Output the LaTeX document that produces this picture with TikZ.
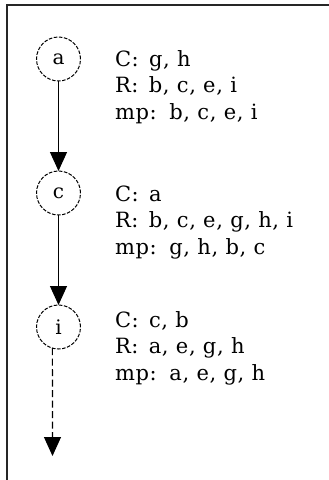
\documentclass[tikz,border=0pt]{standalone}
\usepackage{fontspec}
\setmainfont{DejaVu Serif}[LetterSpace=3]
\usetikzlibrary{arrows.meta}
\begin{document}
\begin{tikzpicture}[x=1pt,y=-1pt,
  every node/.style={inner sep=0pt, outer sep=0pt},
  state/.style={circle, draw, dash pattern=on 3.6pt off 1.5pt, line width=1pt,
    minimum size=44pt, font=\fontsize{20}{20}\selectfont},
  info/.style={anchor=base west, font=\fontsize{21}{21}\selectfont},
  edge/.style={line width=1.1pt, -{Triangle[width=17pt,length=19pt]}},
  dashededge/.style={edge, dash pattern=on 7pt off 3.5pt},
  frame/.style={line width=1.6pt, draw=black!85}]
\useasboundingbox (0,0) rectangle (329,480);
% open frame: top and left sides only
\draw[frame] (329,5) -- (7,5) -- (7,480);

% states
\node[state] (a) at (58.5,59) {a};
\node[state] (c) at (58.5,193) {c};
\node[state] (i) at (58.5,327) {i};
\coordinate (iend) at (52.5,456);

% transitions
\draw[edge] (a) -- (c);
\draw[edge] (c) -- (i);
\draw[dashededge] (i.254) -- (iend);

% annotations
\newcommand\gap{\hspace{3pt}}
\node[info] (a1) at (115,66)    {C:\gap{} g, h};
\node[info] (a2) at (115,92.5)  {R:\gap{} b, c, e, i};
\node[info] (a3) at (115,119)   {mp:\gap{} b, c, e, i};
\node[info] (c1) at (115,201)   {C:\gap{} a};
\node[info] (c2) at (115,227.5) {R:\gap{} b, c, e, g, h, i};
\node[info] (c3) at (115,254)   {mp:\gap{} g, h, b, c};
\node[info] (i1) at (115,327)   {C:\gap{} c, b};
\node[info] (i2) at (115,353.5) {R:\gap{} a, e, g, h};
\node[info] (i3) at (115,380)   {mp:\gap{} a, e, g, h};
\end{tikzpicture}
\end{document}
